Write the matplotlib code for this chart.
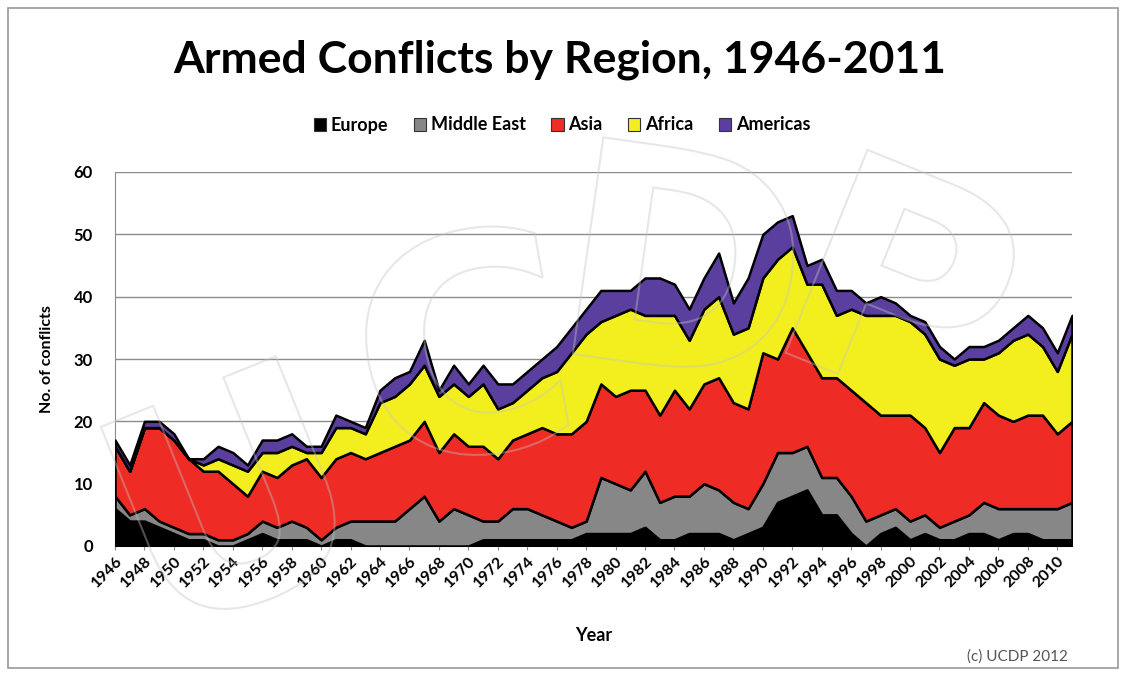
import matplotlib
matplotlib.use("Agg")
import matplotlib.pyplot as plt
import matplotlib.transforms as mtransforms
from matplotlib.patches import Rectangle, Patch, PathPatch
from matplotlib.textpath import TextPath
from matplotlib.font_manager import FontProperties

years = list(range(1946, 2012))
regions = ["Europe", "Middle East", "Asia", "Africa", "Americas"]
colors = ["#000000", "#878787", "#ee2b24", "#f3ef1e", "#5b3f9e"]

europe = [6, 4, 4, 3, 2, 1, 1, 0, 0, 1,
          2, 1, 1, 1, 0, 1, 1, 0, 0, 0,
          0, 0, 0, 0, 0, 1, 1, 1, 1, 1,
          1, 1, 2, 2, 2, 2, 3, 1, 1, 2,
          2, 2, 1, 2, 3, 7, 8, 9, 5, 5,
          2, 0, 2, 3, 1, 2, 1, 1, 2, 2,
          1, 2, 2, 1, 1, 1]
middle_east = [2, 1, 2, 1, 1, 1, 1, 1, 1, 1,
               2, 2, 3, 2, 1, 2, 3, 4, 4, 4,
               6, 8, 4, 6, 5, 3, 3, 5, 5, 4,
               3, 2, 2, 9, 8, 7, 9, 6, 7, 6,
               8, 7, 6, 4, 7, 8, 7, 7, 6, 6,
               6, 4, 3, 3, 3, 3, 2, 3, 3, 5,
               5, 4, 4, 5, 5, 6]
asia = [8, 7, 13, 15, 14, 12, 10, 11, 9, 6,
        8, 8, 9, 11, 10, 11, 11, 10, 11, 12,
        11, 12, 11, 12, 11, 12, 10, 11, 12, 14,
        14, 15, 16, 15, 14, 16, 13, 14, 17, 14,
        16, 18, 16, 16, 21, 15, 20, 15, 16, 16,
        17, 19, 16, 15, 17, 14, 12, 15, 14, 16,
        15, 14, 15, 15, 12, 13]
africa = [0, 0, 0, 0, 0, 0, 1, 2, 3, 4,
          3, 4, 3, 1, 4, 5, 4, 4, 8, 8,
          9, 9, 9, 8, 8, 10, 8, 6, 7, 8,
          10, 13, 14, 10, 13, 13, 12, 16, 12, 11,
          12, 13, 11, 13, 12, 16, 13, 11, 15, 10,
          13, 14, 16, 16, 15, 15, 15, 10, 11, 7,
          10, 13, 13, 11, 10, 14]
americas = [1, 1, 1, 1, 1, 0, 1, 2, 2, 1,
            2, 2, 2, 1, 1, 2, 1, 1, 2, 3,
            2, 4, 1, 3, 2, 3, 4, 3, 3, 3,
            4, 4, 4, 5, 4, 3, 6, 6, 5, 5,
            5, 7, 5, 8, 7, 6, 5, 3, 4, 4,
            3, 2, 3, 2, 1, 2, 2, 1, 2, 2,
            2, 2, 3, 3, 3, 3]
tick_years = list(range(1946, 2011, 2))

BOLD = ["Lato", "DejaVu Sans"]

W, H = 1136, 682
fig = plt.figure(figsize=(W / 100, H / 100), dpi=100)
fig.patch.set_facecolor("white")

# outer frame
fig.add_artist(Rectangle((8 / W, 14 / H), 1110 / W, 660 / H, transform=fig.transFigure,
                         fill=False, edgecolor="#9a9a9a", linewidth=1.2))

ax = fig.add_axes([115 / W, 1 - 546 / H, (1072 - 115) / W, (546 - 172) / H])
ax.stackplot(years, europe, middle_east, asia, africa, americas,
             colors=colors, edgecolor="black", linewidth=1.8, zorder=3)
ax.set_xlim(1946, 2011)
ax.set_ylim(0, 60)
ax.set_yticks(range(0, 61, 10))
ax.grid(axis="y", color="#8c8c8c", linewidth=1.0, zorder=0)
ax.set_axisbelow(True)
for s in ["top", "right"]:
    ax.spines[s].set_visible(False)
ax.spines["left"].set_color("#8c8c8c")
ax.spines["bottom"].set_color("#8c8c8c")
ax.set_xticks(tick_years)
ax.set_xticklabels([str(y) for y in tick_years], rotation=45, ha="right",
                   rotation_mode="anchor", family=BOLD, weight="bold", fontsize=11.5)
for lab in ax.get_yticklabels():
    lab.set_family(BOLD)
    lab.set_weight("bold")
    lab.set_fontsize(12)
ax.tick_params(axis="x", length=3, color="#8c8c8c", pad=3)
ax.tick_params(axis="y", length=0, pad=16)
ax.set_ylabel("No. of conflicts", family=BOLD, weight="bold", fontsize=11.5, labelpad=14)
ax.set_xlabel("Year", family=BOLD, weight="bold", fontsize=13, labelpad=26)

fig.text(560 / W, 1 - 60 / H, "Armed Conflicts by Region, 1946-2011", ha="center", va="center",
         family=BOLD, weight="bold", fontsize=32)

handles = [Patch(facecolor=c, edgecolor="#333333", linewidth=0.8) for c in colors]
fig.legend(handles, regions, loc="center", bbox_to_anchor=(562 / W, 1 - 125 / H), ncol=5,
           frameon=False, handlelength=0.7, handleheight=0.7, handletextpad=0.25,
           columnspacing=1.4, prop={"family": BOLD, "weight": "bold", "size": 13})

fig.text(1068 / W, 1 - 657 / H, "(c) UCDP 2012", ha="right", va="center",
         family=["Lato", "DejaVu Sans"], fontsize=11, color="#555555")

# faint outlined watermark letters
fp = FontProperties(family="DejaVu Sans", weight="bold")
wm = [("U", 230, 495, 22), ("C", 460, 345, 10), ("D", 690, 260, -8), ("P", 910, 285, -22)]
for ch, x, y, rot in wm:
    tp = TextPath((0, 0), ch, size=300, prop=fp)
    bb = tp.get_extents()
    tr = (mtransforms.Affine2D()
          .translate(-(bb.x0 + bb.x1) / 2, -(bb.y0 + bb.y1) / 2)
          .rotate_deg(rot)
          .translate(x, H - y))
    patch = PathPatch(tr.transform_path(tp), facecolor="none", edgecolor="#c4c4c4",
                      linewidth=1.5, alpha=0.4, transform=mtransforms.IdentityTransform(),
                      zorder=10)
    fig.add_artist(patch)

fig.savefig("out.png", dpi=100, facecolor="white")
